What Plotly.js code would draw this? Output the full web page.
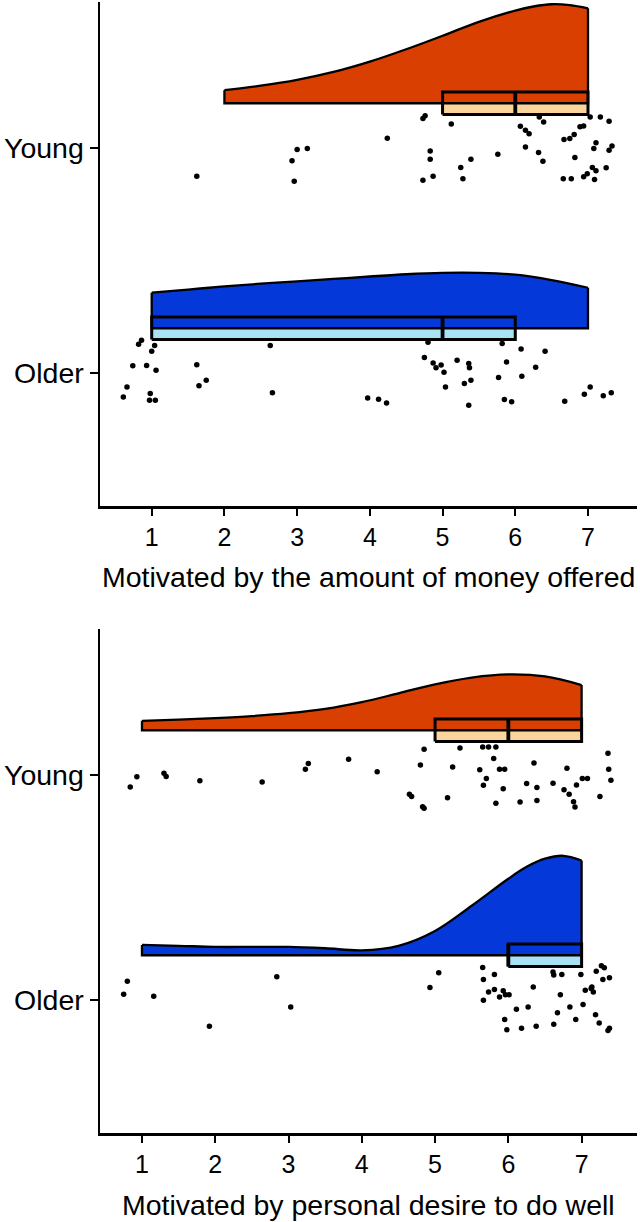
<!DOCTYPE html>
<html>
<head>
<meta charset="utf-8">
<script src="https://cdn.plot.ly/plotly-3.0.1.min.js"></script>
<style>html,body{margin:0;padding:0;background:#fff;}#chart{width:640px;height:1222px;}</style>
</head>
<body>
<div id="chart"></div>
<script>
// ---------- DATA ----------
const categories = ['Older', 'Young'];
const xTicks = [1, 2, 3, 4, 5, 6, 7];
const titleTop = 'Motivated by the amount of money offered';
const titleBottom = 'Motivated by personal desire to do well';

// Half-violin density outlines (x value, height in category units)
const topYoungDensX = [2, 2.5, 3, 3.5, 4, 4.5, 5, 5.5, 6, 6.25, 6.5, 6.75, 7];
const topYoungDensH = [0.058, 0.078, 0.104, 0.139, 0.185, 0.240, 0.300, 0.362, 0.412, 0.430, 0.440, 0.436, 0.422];
const topOlderDensX = [1, 1.5, 2, 2.5, 3, 3.5, 4, 4.5, 5, 5.5, 6, 6.5, 7];
const topOlderDensH = [0.158, 0.172, 0.186, 0.198, 0.208, 0.219, 0.230, 0.240, 0.246, 0.246, 0.238, 0.214, 0.180];
const botYoungDensX = [1, 1.5, 2, 2.5, 3, 3.5, 4, 4.5, 5, 5.5, 6, 6.5, 7];
const botYoungDensH = [0.042, 0.047, 0.054, 0.063, 0.076, 0.095, 0.125, 0.164, 0.204, 0.234, 0.248, 0.239, 0.201];
const botOlderDensX = [1, 1.5, 2, 2.5, 3, 3.5, 4, 4.5, 5, 5.5, 6, 6.25, 6.5, 6.75, 7];
const botOlderDensH = [0.046, 0.042, 0.037, 0.037, 0.037, 0.031, 0.022, 0.042, 0.108, 0.220, 0.340, 0.393, 0.429, 0.442, 0.421];

// Box statistics [Q1, median, Q3]
const topYoungBox = [5, 6, 7];
const topOlderBox = [1, 5, 6];
const botYoungBox = [5, 6, 7];
const botOlderBox = [6, 6, 7];

// Raw (jittered) points: x values and vertical jitter offsets
const topYoungX = [1.62, 2.96, 2.93, 3.00, 3.14, 4.24, 4.73, 4.76, 5.12, 4.83, 4.83, 4.73, 4.87, 5.25, 5.39, 5.28, 5.76, 6.07, 6.14, 6.19, 6.33, 6.39, 6.14, 6.32, 6.38, 6.67, 6.75, 6.81, 6.89, 6.94, 7.03, 7.17, 7.29, 7.11, 7.08, 7.33, 7.29, 6.82, 7.25, 7.06, 7.11, 6.94, 6.99, 7.09, 6.66, 6.77];
const topYoungJ = [-0.124, -0.147, -0.056, -0.006, -0.001, 0.044, 0.132, 0.144, 0.108, -0.012, -0.049, -0.142, -0.124, -0.086, -0.049, -0.136, -0.027, 0.098, 0.080, 0.065, 0.139, 0.117, 0.006, -0.019, -0.058, 0.039, 0.043, 0.061, 0.095, 0.099, 0.139, 0.139, 0.120, 0.024, -0.001, 0.010, -0.009, -0.041, -0.087, -0.086, -0.100, -0.127, -0.113, -0.139, -0.136, -0.136];

const topOlderX = [0.82, 0.86, 1.04, 1.00, 0.74, 0.93, 1.06, 0.66, 0.61, 0.98, 0.97, 1.05, 1.62, 1.75, 1.65, 2.63, 2.66, 3.97, 4.12, 4.23, 4.80, 4.75, 4.87, 4.91, 4.98, 5.02, 5.04, 5.20, 5.36, 5.37, 5.30, 5.39, 5.36, 5.82, 5.88, 5.77, 5.85, 5.95, 6.08, 6.09, 6.28, 6.41, 6.68, 6.95, 7.03, 7.21, 7.32];
const topOlderJ = [0.129, 0.147, 0.123, 0.098, 0.033, 0.034, 0.013, -0.061, -0.105, -0.090, -0.120, -0.120, 0.038, -0.031, -0.056, 0.123, -0.087, -0.110, -0.116, -0.132, 0.138, 0.070, 0.046, 0.025, 0.037, 0.004, -0.061, 0.058, 0.043, 0.025, -0.046, -0.031, -0.142, 0.132, 0.050, -0.019, -0.117, -0.127, 0.108, -0.013, 0.027, 0.098, -0.124, -0.093, -0.061, -0.100, -0.087];

const botYoungX = [0.84, 0.93, 1.30, 1.33, 1.79, 2.64, 3.23, 3.27, 3.82, 4.21, 4.80, 4.85, 4.65, 4.68, 4.83, 4.85, 5.17, 5.24, 5.34, 5.65, 5.73, 5.83, 5.80, 5.61, 5.70, 5.66, 5.88, 5.95, 5.93, 5.83, 6.16, 6.35, 6.25, 6.39, 6.39, 6.61, 6.80, 6.76, 6.83, 6.89, 6.91, 6.93, 7.01, 7.08, 7.25, 7.36, 7.37, 7.40];
const botYoungJ = [-0.052, -0.007, 0.009, -0.006, -0.025, -0.030, 0.027, 0.052, 0.071, 0.015, 0.046, 0.116, -0.085, -0.095, -0.140, -0.147, -0.100, 0.037, 0.121, 0.126, 0.126, 0.126, 0.074, 0.024, -0.015, -0.045, 0.027, 0.027, -0.060, -0.125, -0.119, 0.054, -0.037, -0.055, -0.112, -0.036, 0.031, -0.065, -0.085, -0.118, -0.141, -0.043, -0.015, -0.015, -0.095, 0.098, 0.027, -0.022];

const botOlderX = [0.80, 0.75, 1.16, 1.92, 2.84, 3.03, 5.05, 4.93, 5.65, 5.66, 5.81, 5.66, 5.73, 5.81, 5.88, 5.93, 5.96, 6.01, 5.95, 5.98, 6.11, 6.18, 6.27, 6.34, 6.38, 6.61, 6.62, 6.73, 6.71, 6.67, 6.62, 6.84, 6.92, 6.99, 7.02, 7.05, 7.13, 7.16, 7.14, 7.20, 7.27, 7.31, 7.29, 7.38, 7.19, 7.24, 7.36, 7.38];
const botOlderJ = [0.085, 0.027, 0.018, -0.115, 0.104, -0.030, 0.122, 0.057, 0.146, 0.092, 0.115, 0.000, 0.037, 0.048, 0.015, 0.042, 0.025, 0.025, -0.085, -0.131, -0.040, -0.124, -0.030, 0.059, -0.116, 0.126, 0.112, 0.115, 0.025, -0.055, -0.107, -0.030, -0.085, 0.115, -0.019, 0.045, 0.052, 0.037, 0.059, 0.129, 0.153, 0.144, 0.092, 0.100, -0.064, -0.101, -0.134, -0.124];

// ---------- STYLE ----------
const ORANGE = '#D83F00', PEACH = '#FCD59C';
const BLUE = '#0538D8', LIGHTBLUE = '#A9E1F5';
const FONT = 'Liberation Sans, Arimo, Arial, Helvetica, sans-serif';
const OFFSET = 0.2;   // violin baseline above category centre
const BOXH = 0.05;    // half thickness of box

const traces = [];
function group(xa, ya, cat, dx, dh, box, px, pj, dark, light) {
  const base = cat + OFFSET;
  const common = {xaxis: xa, yaxis: ya, hoverinfo: 'skip', showlegend: false, type: 'scatter'};
  // box light fill
  traces.push(Object.assign({}, common, {
    x: [box[0], box[2], box[2], box[0], box[0]],
    y: [base - BOXH, base - BOXH, base + BOXH, base + BOXH, base - BOXH],
    mode: 'lines', fill: 'toself', fillcolor: light, line: {width: 0, color: light}
  }));
  // violin
  const x0 = dx[0], x1 = dx[dx.length - 1];
  traces.push(Object.assign({}, common, {
    x: [x0, x1], y: [base, base], mode: 'lines', line: {width: 0, color: 'rgba(0,0,0,0)'}
  }));
  traces.push(Object.assign({}, common, {
    x: dx, y: dh.map(h => base + h), mode: 'lines',
    line: {color: dark, width: 0, shape: 'spline', smoothing: 1},
    fill: 'tonexty', fillcolor: dark
  }));
  traces.push(Object.assign({}, common, {
    x: dx, y: dh.map(h => base + h), mode: 'lines',
    line: {color: '#000', width: 2.3, shape: 'spline', smoothing: 1}
  }));
  traces.push(Object.assign({}, common, {
    x: [x0, x0, x1, x1, x0], y: [base + dh[0], base, base, base + dh[dh.length - 1], null],
    mode: 'lines', line: {color: '#000', width: 2.3}
  }));
  // box outline + median
  traces.push(Object.assign({}, common, {
    x: [box[0], box[2], box[2], box[0], box[0]],
    y: [base - BOXH, base - BOXH, base + BOXH, base + BOXH, base - BOXH],
    mode: 'lines', line: {color: '#000', width: 3}
  }));
  traces.push(Object.assign({}, common, {
    x: [box[1], box[1]], y: [base - BOXH, base + BOXH],
    mode: 'lines', line: {color: '#000', width: 3.8}
  }));
  // points
  traces.push(Object.assign({}, common, {
    x: px, y: pj.map(j => cat + j), mode: 'markers',
    marker: {color: '#000', size: 5.5}
  }));
}

group('x', 'y', 2, topYoungDensX, topYoungDensH, topYoungBox, topYoungX, topYoungJ, ORANGE, PEACH);
group('x', 'y', 1, topOlderDensX, topOlderDensH, topOlderBox, topOlderX, topOlderJ, BLUE, LIGHTBLUE);
group('x2', 'y2', 2, botYoungDensX, botYoungDensH, botYoungBox, botYoungX, botYoungJ, ORANGE, PEACH);
group('x2', 'y2', 1, botOlderDensX, botOlderDensH, botOlderBox, botOlderX, botOlderJ, BLUE, LIGHTBLUE);

const xax = {
  tickvals: xTicks, ticktext: xTicks.map(String), ticks: 'outside', ticklen: 7, tickwidth: 2, tickcolor: '#000',
  showline: true, linewidth: 2.5, linecolor: '#000', showgrid: false, zeroline: false,
  tickfont: {family: FONT, size: 25, color: '#000'}, fixedrange: true
};
const yax = {
  tickvals: [1, 2], ticktext: categories, ticks: 'outside', ticklen: 8, tickwidth: 2, tickcolor: '#000',
  showline: true, linewidth: 2.5, linecolor: '#000', showgrid: false, zeroline: false,
  tickfont: {family: FONT, size: 28.5, color: '#000'}, range: [0.41, 2.65], fixedrange: true
};
const plotH = 1222 - 2 - 89;
const layout = {
  width: 640, height: 1222,
  margin: {l: 100, r: 3, t: 2, b: 89, pad: 0},
  paper_bgcolor: '#fff', plot_bgcolor: '#fff',
  font: {family: FONT, color: '#000'},
  xaxis: Object.assign({}, xax, {anchor: 'y', domain: [0, 1], range: [0.289, 7.674]}),
  yaxis: Object.assign({}, yax, {anchor: 'x', domain: [627 / plotH, 1]}),
  xaxis2: Object.assign({}, xax, {anchor: 'y2', domain: [0, 1], range: [0.427, 7.756]}),
  yaxis2: Object.assign({}, yax, {anchor: 'x2', domain: [0, 504 / plotH]}),
  annotations: [
    {text: titleTop, xref: 'paper', yref: 'paper', x: 0.5, y: 627 / plotH, yshift: -71,
     xanchor: 'center', yanchor: 'middle', showarrow: false, font: {family: FONT, size: 28.5, color: '#000'}},
    {text: titleBottom, xref: 'paper', yref: 'paper', x: 0.5, y: 0, yshift: -72,
     xanchor: 'center', yanchor: 'middle', showarrow: false, font: {family: FONT, size: 28.5, color: '#000'}}
  ]
};
Plotly.newPlot('chart', traces, layout, {displayModeBar: false, staticPlot: true});
</script>
</body>
</html>
